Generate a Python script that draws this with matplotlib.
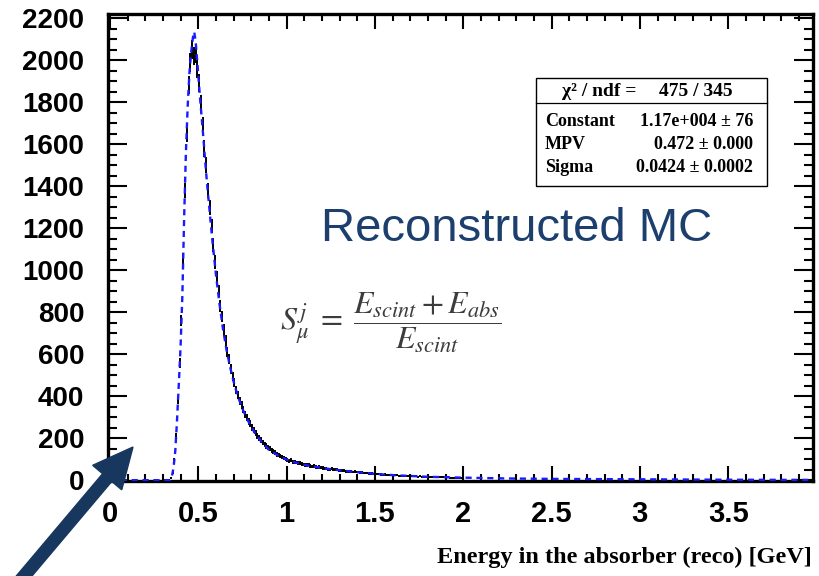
import numpy as np
import matplotlib
matplotlib.use("Agg")
import matplotlib.pyplot as plt
from matplotlib.patches import FancyArrow, Rectangle
from matplotlib.transforms import IdentityTransform
from matplotlib.ticker import MultipleLocator

# ---------------- data ----------------
# histogram: bin width 0.01 GeV, bin centres from 0.305
hist_start = 0.305
bin_width = 0.01
hist_counts = [
    0, 0, 1, 3, 10, 35, 95, 210, 380, 560,
    760, 1050, 1380, 1650, 1880, 1990, 2050, 2020, 2030, 1960,
    1890, 1790, 1690, 1580, 1500, 1380, 1300, 1210, 1120, 1040,
    965, 900, 830, 780, 715, 665, 610, 575, 530, 495,
    465, 430, 405, 378, 358, 336, 312, 300, 280, 268,
    250, 238, 224, 210, 200, 190, 180, 171, 163, 154,
    149, 141, 135, 130, 123, 120, 114, 110, 106, 102,
    97, 92, 95, 88, 86, 84, 80, 82, 76, 75,
    73, 71, 74, 68, 66, 67, 63, 61, 62, 59,
    58, 56, 57, 53, 52, 54, 50, 49, 50, 47,
    47, 45, 46, 43, 42, 43, 40, 39, 40, 38,
    38, 36, 37, 34, 33, 34, 32, 31, 32, 30,
    30, 28, 29, 27, 26, 27, 25, 25, 26, 24,
    24, 23, 23, 22, 21, 22, 20, 21, 20, 20,
    20, 19, 18, 19, 17, 18, 17, 16, 17, 16,
    16, 15, 15, 14, 15, 14, 13, 14, 13, 13,
    12, 13, 12, 12, 11, 12, 11, 11, 10, 11,
]

fit_x = [0.00, 0.34, 0.35, 0.36, 0.37, 0.38, 0.39, 0.40, 0.41, 0.42,
         0.43, 0.44, 0.45, 0.46, 0.47, 0.477, 0.485, 0.49, 0.50, 0.51,
         0.52, 0.53, 0.54, 0.55, 0.56, 0.57, 0.58, 0.60, 0.62, 0.64,
         0.66, 0.68, 0.70, 0.72, 0.75, 0.78, 0.82, 0.86, 0.90, 0.95,
         1.00, 1.05, 1.10, 1.20, 1.30, 1.40, 1.50, 1.60, 1.70, 1.80,
         2.00, 2.25, 2.50, 3.00, 3.50, 4.00]
fit_y = [0, 0, 15, 60, 140, 290, 460, 640, 880, 1250,
         1560, 1780, 1940, 2040, 2110, 2135, 2090, 2040, 1930, 1820,
         1720, 1620, 1510, 1410, 1320, 1230, 1140, 980, 840, 720,
         620, 540, 470, 410, 340, 285, 225, 180, 145, 118,
         98, 84, 73, 58, 47, 38, 30, 24, 20, 16,
         12, 8, 6, 4, 2, 1]

y_ticks = [0, 200, 400, 600, 800, 1000, 1200, 1400, 1600, 1800, 2000, 2200]
x_ticks = [0, 0.5, 1, 1.5, 2, 2.5, 3, 3.5]
x_tick_labels = ["0", "0.5", "1", "1.5", "2", "2.5", "3", "3.5"]

stats_header = ("\u03c7\u00b2 / ndf =", "475 / 345")
stats_rows = [("Constant", "1.17e+004 \u00b1 76"),
              ("MPV", "0.472 \u00b1 0.000"),
              ("Sigma", "0.0424 \u00b1 0.0002")]

xlabel = "Energy in the absorber (reco) [GeV]"
title_text = "Reconstructed MC"
formula = r"$S^{j}_{\mu}\; = \;\dfrac{E_{scint} + E_{abs}}{E_{scint}}$"

# ---------------- figure ----------------
W, H = 819, 576
plt.rcParams["mathtext.fontset"] = "stix"
fig = plt.figure(figsize=(W / 100, H / 100), dpi=100)
ax = fig.add_axes([108 / W, 1 - 481 / H, (813 - 108) / W, (481 - 14) / H])

centers = hist_start + bin_width * np.arange(len(hist_counts))
counts = np.array(hist_counts, dtype=float)
ax.errorbar(centers, counts, yerr=np.sqrt(counts), xerr=bin_width / 2,
            fmt="none", ecolor="black", elinewidth=1.4, zorder=2)

line, = ax.plot(fit_x, fit_y, color="#1a1aff", lw=1.7, zorder=3)
line.set_dashes([2.6, 2.0])

ax.set_xlim(-0.011, 3.98)
ax.set_ylim(-4, 2220)

for sp in ax.spines.values():
    sp.set_linewidth(2.4)

ax.xaxis.set_minor_locator(MultipleLocator(0.1))
ax.yaxis.set_minor_locator(MultipleLocator(50))
ax.set_xticks(x_ticks)
ax.set_xticklabels(x_tick_labels)
ax.set_yticks(y_ticks)
ax.set_yticklabels([str(v) for v in y_ticks])

ax.tick_params(axis="x", which="major", direction="in", length=11, width=1.5,
               top=True, bottom=True, pad=14)
ax.tick_params(axis="x", which="minor", direction="in", length=5, width=1.5,
               top=True, bottom=True)
ax.tick_params(axis="y", which="major", direction="in", length=14, width=1.5,
               left=True, right=True, pad=17)
ax.tick_params(axis="y", which="minor", direction="in", length=6.5, width=1.5,
               left=True, right=True)

for lab in ax.get_yticklabels():
    lab.set_fontfamily("Liberation Sans")
    lab.set_fontweight("bold")
    lab.set_fontsize(20)
for lab in ax.get_xticklabels():
    lab.set_fontfamily("Liberation Sans")
    lab.set_fontweight("bold")
    lab.set_fontsize(21)

fig.text(812 / W, 1 - 557 / H, xlabel, ha="right", va="center",
         fontfamily="Liberation Serif", fontweight="bold", fontsize=17.5)

fig.text(517 / W, 1 - 229 / H, title_text, ha="center", va="center",
         fontfamily="Liberation Sans", fontsize=34, color="#1c3f6e")

fig.text(391 / W, 1 - 323 / H, formula, ha="center", va="center",
         fontsize=23, color="#3c3c3c")

# stats box (figure pixel coordinates)
box_l, box_r, box_t, box_b, box_sep = 536, 767, 78, 186, 103
pix = IdentityTransform()
fig.patches.append(Rectangle((box_l, H - box_b), box_r - box_l, box_b - box_t,
                             transform=pix, fill=True, facecolor="white",
                             edgecolor="black", lw=1.0, zorder=5))
fig.add_artist(plt.Line2D([box_l, box_r], [H - box_sep, H - box_sep],
                          transform=pix, color="black", lw=0.9, zorder=6))
sfont = dict(fontfamily="Liberation Serif", fontweight="bold", fontsize=13,
             color="black", zorder=7)
fig.text(562 / W, 1 - 91 / H, stats_header[0], ha="left", va="center",
         **{**sfont, "fontsize": 14})
fig.text(733 / W, 1 - 91 / H, stats_header[1], ha="right", va="center",
         **{**sfont, "fontsize": 14})
for i, (k, v) in enumerate(stats_rows):
    yy = 122 + i * 22.5
    fig.text(545 / W, 1 - yy / H, k, ha="left", va="center", **sfont)
    fig.text(753 / W, 1 - yy / H, v, ha="right", va="center", **sfont)

# arrow
arrow = FancyArrow(14, -12, 119, 141, width=12, head_width=38,
                   head_length=40, length_includes_head=True,
                   transform=pix, color="#17375e", zorder=10)
fig.patches.append(arrow)

fig.savefig("out.png", dpi=100)
